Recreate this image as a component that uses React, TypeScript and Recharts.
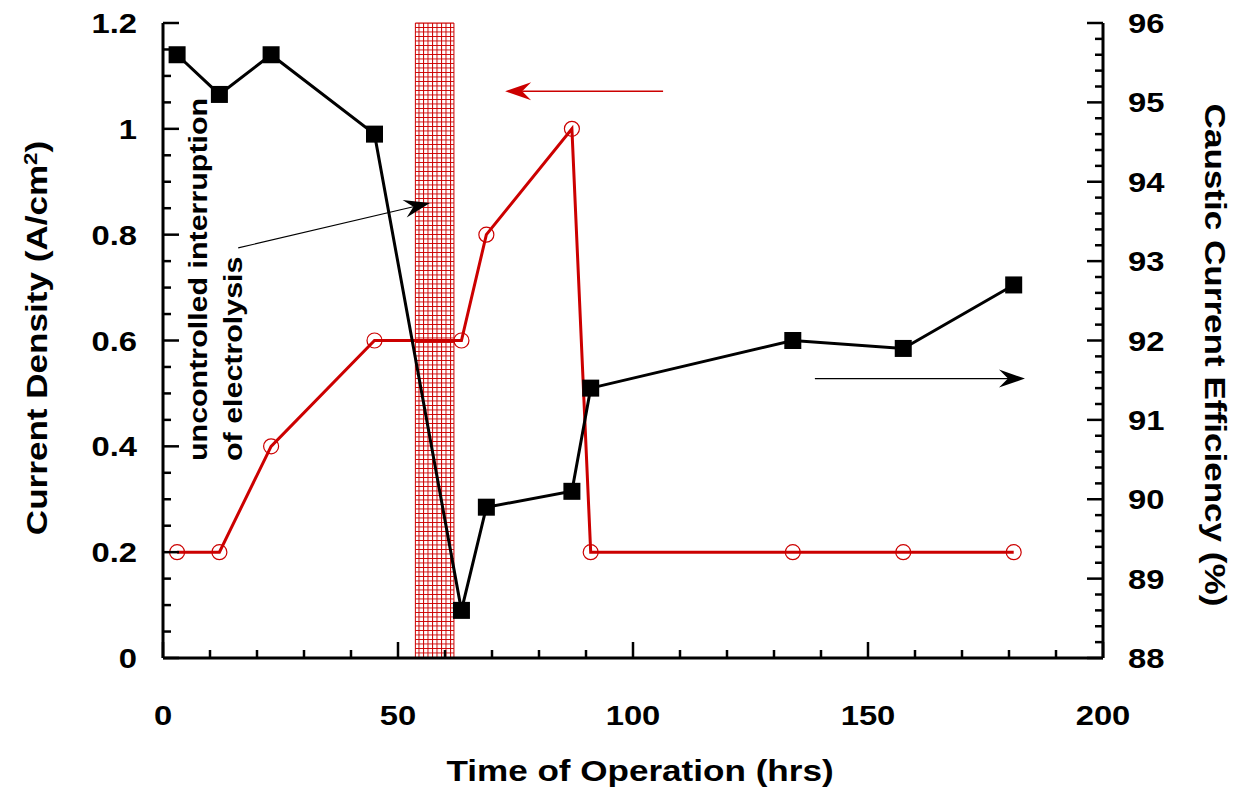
import React from 'react';
import {
  ComposedChart,
  Line,
  XAxis,
  YAxis,
  ReferenceArea,
  ReferenceLine,
} from 'recharts';

// Operating time of each sample (hrs)
const hours = [3, 12, 23, 45, 63.5, 68.8, 87, 91, 134, 157.5, 181];
// Current density applied (A/cm2), left axis
const currentDensity = [0.2, 0.2, 0.4, 0.6, 0.6, 0.8, 1.0, 0.2, 0.2, 0.2, 0.2];
// Caustic current efficiency (%), right axis
const efficiency = [95.6, 95.1, 95.6, 94.6, 88.6, 89.9, 90.1, 91.4, 92.0, 91.9, 92.7];

// Interval with uncontrolled interruption of electrolysis (hrs)
const interruption = [53.7, 61.9];

// Tick values
const xTicks = Array.from({ length: 21 }, (_, i) => i * 10);
const xMajor = [0, 50, 100, 150, 200];
const leftTicks = Array.from({ length: 25 }, (_, i) => Math.round(i * 5) / 100);
const leftMajor = [0, 0.2, 0.4, 0.6, 0.8, 1, 1.2];
const rightTicks = Array.from({ length: 41 }, (_, i) => Math.round((88 + i * 0.2) * 10) / 10);
const rightMajor = [88, 89, 90, 91, 92, 93, 94, 95, 96];

const rows = hours.map((h, i) => ({
  hours: h,
  density: currentDensity[i],
  efficiency: efficiency[i],
}));

const RED = '#cc0000';
const FONT = '"Liberation Sans", Arial, sans-serif';
const SX = 1.17; // horizontal widening of the bold lettering
const isMajor = (list: number[], v: number) => list.some((m) => Math.abs(m - v) < 1e-6);

const TICK_W = 2.5;
const MAJOR_LEN = 16;
const MINOR_LEN = 8;
const LABEL_SIZE = 28;
const TITLE_SIZE = 30;

type STProps = {
  x: number;
  y: number;
  rotate?: number;
  anchor?: 'start' | 'middle' | 'end';
  size: number;
  dy?: string;
  children: React.ReactNode;
};

const StretchText = ({ x, y, rotate = 0, anchor = 'middle', size, dy, children }: STProps) => (
  <text
    transform={`translate(${x} ${y}) rotate(${rotate}) scale(${SX} 1)`}
    textAnchor={anchor}
    dy={dy}
    fontFamily={FONT}
    fontWeight="bold"
    fontSize={size}
    fill="#000"
  >
    {children}
  </text>
);

const BottomTick = (props: any) => {
  const { x, y, payload } = props;
  const major = isMajor(xMajor, payload.value);
  return (
    <g>
      <line x1={x} x2={x} y1={y} y2={y - (major ? MAJOR_LEN : MINOR_LEN)} stroke="#000" strokeWidth={TICK_W} />
      {major && (
        <StretchText x={x} y={y + 67} size={LABEL_SIZE}>
          {payload.value}
        </StretchText>
      )}
    </g>
  );
};

const TopTick = (props: any) => {
  const { x, y, payload } = props;
  const major = isMajor(xMajor, payload.value);
  return <line x1={x} x2={x} y1={y} y2={y + (major ? MAJOR_LEN : MINOR_LEN)} stroke="#000" strokeWidth={TICK_W} />;
};

const LeftTick = (props: any) => {
  const { x, y, payload } = props;
  const major = isMajor(leftMajor, payload.value);
  return (
    <g>
      <line x1={x} x2={x + (major ? MAJOR_LEN : MINOR_LEN)} y1={y} y2={y} stroke="#000" strokeWidth={TICK_W} />
      {major && (
        <StretchText x={x - 26} y={y} dy="0.36em" anchor="end" size={LABEL_SIZE}>
          {payload.value}
        </StretchText>
      )}
    </g>
  );
};

const RightTick = (props: any) => {
  const { x, y, payload } = props;
  const major = isMajor(rightMajor, payload.value);
  return (
    <g>
      <line x1={x} x2={x - (major ? MAJOR_LEN : MINOR_LEN)} y1={y} y2={y} stroke="#000" strokeWidth={TICK_W} />
      {major && (
        <StretchText x={x + 25} y={y} dy="0.36em" anchor="start" size={LABEL_SIZE}>
          {payload.value}
        </StretchText>
      )}
    </g>
  );
};

const CircleDot = (props: any) => {
  const { cx, cy, index } = props;
  return <circle key={`c${index}`} cx={cx} cy={cy} r={7.5} fill="none" stroke={RED} strokeWidth={1.2} />;
};

const SquareDot = (props: any) => {
  const { cx, cy, index } = props;
  return <rect key={`s${index}`} x={cx - 8.5} y={cy - 8.5} width={17} height={17} fill="#000" />;
};

// Line with a swept-back arrowhead at its second end point
const arrowShape = (color: string, width: number) => (p: any) => {
  const { x1, y1, x2, y2 } = p;
  const dx = x2 - x1;
  const dy = y2 - y1;
  const len = Math.hypot(dx, dy) || 1;
  const ux = dx / len;
  const uy = dy / len;
  const L = 26;
  const W = 9;
  const N = 17;
  const bx = x2 - ux * L;
  const by = y2 - uy * L;
  const pts = [
    [x2, y2],
    [bx - uy * W, by + ux * W],
    [x2 - ux * N, y2 - uy * N],
    [bx + uy * W, by - ux * W],
  ]
    .map((q) => q.join(','))
    .join(' ');
  return (
    <g>
      <line x1={x1} y1={y1} x2={x2 - ux * N} y2={y2 - uy * N} stroke={color} strokeWidth={width} />
      <polygon points={pts} fill={color} />
    </g>
  );
};

export default function App() {
  return (
    <div style={{ position: 'absolute', left: 0, top: 0, width: 1239, height: 788, background: '#fff' }}>
      <svg width={0} height={0} style={{ position: 'absolute' }}>
        <defs>
          <pattern id="hatch" width={4.5} height={4.5} patternUnits="userSpaceOnUse">
            <rect width={4.5} height={4.5} fill="#fff" />
            <path d="M0 0.5 H4.5 M0.5 0 V4.5" stroke={RED} strokeWidth={1} />
          </pattern>
        </defs>
      </svg>
      <ComposedChart width={1239} height={788} data={rows} margin={{ top: 23, right: 0, bottom: 0, left: 0 }}>
        <XAxis
          xAxisId="bottom"
          dataKey="hours"
          type="number"
          domain={[0, 200]}
          ticks={xTicks}
          interval={0}
          height={130}
          tickSize={0}
          tickMargin={0}
          tick={<BottomTick />}
          axisLine={{ stroke: '#000', strokeWidth: 3 }}
          allowDataOverflow
        />
        <XAxis
          xAxisId="top"
          orientation="top"
          dataKey="hours"
          type="number"
          domain={[0, 200]}
          ticks={xTicks}
          interval={0}
          height={0}
          tickSize={0}
          tickMargin={0}
          tick={<TopTick />}
          axisLine={{ stroke: '#000', strokeWidth: 3 }}
          allowDataOverflow
        />
        <YAxis
          yAxisId="left"
          type="number"
          domain={[0, 1.2]}
          ticks={leftTicks}
          interval={0}
          width={163}
          tickSize={0}
          tickMargin={0}
          tick={<LeftTick />}
          axisLine={{ stroke: '#000', strokeWidth: 3 }}
          allowDataOverflow
        />
        <YAxis
          yAxisId="right"
          orientation="right"
          type="number"
          domain={[88, 96]}
          ticks={rightTicks}
          interval={0}
          width={136}
          tickSize={0}
          tickMargin={0}
          tick={<RightTick />}
          axisLine={{ stroke: '#000', strokeWidth: 3 }}
          allowDataOverflow
        />

        <ReferenceArea
          xAxisId="bottom"
          yAxisId="left"
          x1={interruption[0]}
          x2={interruption[1]}
          y1={0}
          y2={1.2}
          fill="url(#hatch)"
          fillOpacity={1}
          stroke={RED}
          strokeWidth={1}
        />

        <Line
          xAxisId="bottom"
          yAxisId="left"
          type="linear"
          dataKey="density"
          stroke={RED}
          strokeWidth={3}
          dot={<CircleDot />}
          activeDot={false}
          isAnimationActive={false}
        />
        <Line
          xAxisId="bottom"
          yAxisId="right"
          type="linear"
          dataKey="efficiency"
          stroke="#000"
          strokeWidth={3}
          dot={<SquareDot />}
          activeDot={false}
          isAnimationActive={false}
        />

        <ReferenceLine
          xAxisId="bottom"
          yAxisId="left"
          segment={[{ x: 106.4, y: 1.071 }, { x: 72.8, y: 1.071 }]}
          shape={arrowShape(RED, 1.3)}
        />
        <ReferenceLine
          xAxisId="bottom"
          yAxisId="right"
          segment={[{ x: 138.7, y: 91.52 }, { x: 183.4, y: 91.52 }]}
          shape={arrowShape('#000', 1.3)}
        />
        <ReferenceLine
          xAxisId="bottom"
          yAxisId="left"
          segment={[{ x: 16.0, y: 0.775 }, { x: 56.8, y: 0.86 }]}
          shape={arrowShape('#000', 1.1)}
        />
      </ComposedChart>

      <svg
        width={1239}
        height={788}
        style={{ position: 'absolute', left: 0, top: 0, pointerEvents: 'none' }}
      >
        <StretchText x={640} y={781} size={TITLE_SIZE}>
          Time of Operation (hrs)
        </StretchText>
        <StretchText x={47} y={338} rotate={-90} size={TITLE_SIZE}>
          Current Density (A/cm<tspan baselineShift="super" fontSize={19}>2</tspan>)
        </StretchText>
        <StretchText x={1205} y={355} rotate={90} size={TITLE_SIZE}>
          Caustic Current Efficiency (%)
        </StretchText>
        <StretchText x={207} y={461} rotate={-90} anchor="start" size={26}>
          uncontrolled interruption
        </StretchText>
        <StretchText x={242} y={461} rotate={-90} anchor="start" size={26}>
          of electrolysis
        </StretchText>
      </svg>
    </div>
  );
}
